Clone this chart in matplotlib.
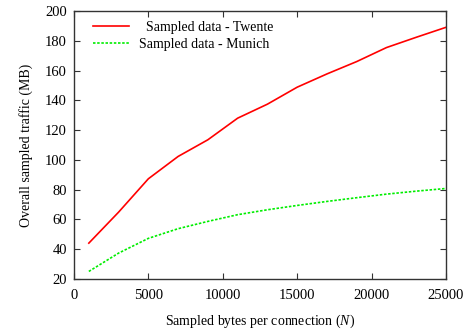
import matplotlib
matplotlib.use("Agg")
import matplotlib.pyplot as plt

# sampled bytes per connection (N)
n_bytes = [1000, 3000, 5000, 7000, 9000, 11000, 13000, 15000, 17000, 19000, 21000, 23000, 25000]
# overall sampled traffic (MB)
twente = [44.1, 64.9, 87.3, 102.3, 113.5, 128.0, 137.4, 148.8, 157.7, 166.0, 175.4, 182.3, 189.0]
munich = [25.1, 37.4, 47.3, 53.8, 58.7, 63.2, 66.5, 69.4, 72.1, 74.6, 77.0, 79.0, 80.8]

x_ticks = [0, 5000, 10000, 15000, 20000, 25000]
y_ticks = [20, 40, 60, 80, 100, 120, 140, 160, 180, 200]

plt.rcParams["font.family"] = ["Liberation Serif", "DejaVu Serif"]
plt.rcParams["mathtext.fontset"] = "custom"
plt.rcParams["mathtext.it"] = "Liberation Serif:italic"
plt.rcParams["mathtext.rm"] = "Liberation Serif"

fig = plt.figure(figsize=(4.68, 3.31), dpi=100)
ax = fig.add_axes([0.158, 0.157, 0.795, 0.81])

ax.plot(n_bytes, twente, color="#ff0000", lw=1.2, label="  Sampled data - Twente")
ax.plot(n_bytes, munich, color="#00ee00", lw=1.2, linestyle=(0, (1.5, 1)),
        label="Sampled data - Munich")

ax.set_xlim(0, 25000)
ax.set_ylim(20, 200)
ax.set_xticks(x_ticks)
ax.set_yticks(y_ticks)
ax.tick_params(direction="in", top=True, right=True, length=4, labelsize=10.5,
               color="#333333")
ax.tick_params(axis="x", pad=7)
ax.tick_params(axis="y", pad=5)
for s in ax.spines.values():
    s.set_color("#333333")
    s.set_linewidth(1.0)

ax.set_xlabel("Sampled bytes per connection ($N$)", fontsize=10, labelpad=8)
ax.set_ylabel("Overall sampled traffic (MB)", fontsize=10, labelpad=9)

ax.legend(loc="upper left", bbox_to_anchor=(0.025, 1.0), frameon=False,
          fontsize=10, handlelength=2.6, handletextpad=0.75,
          borderaxespad=0.3, borderpad=0.4, labelspacing=0.3)

fig.savefig("out.png", dpi=100)
